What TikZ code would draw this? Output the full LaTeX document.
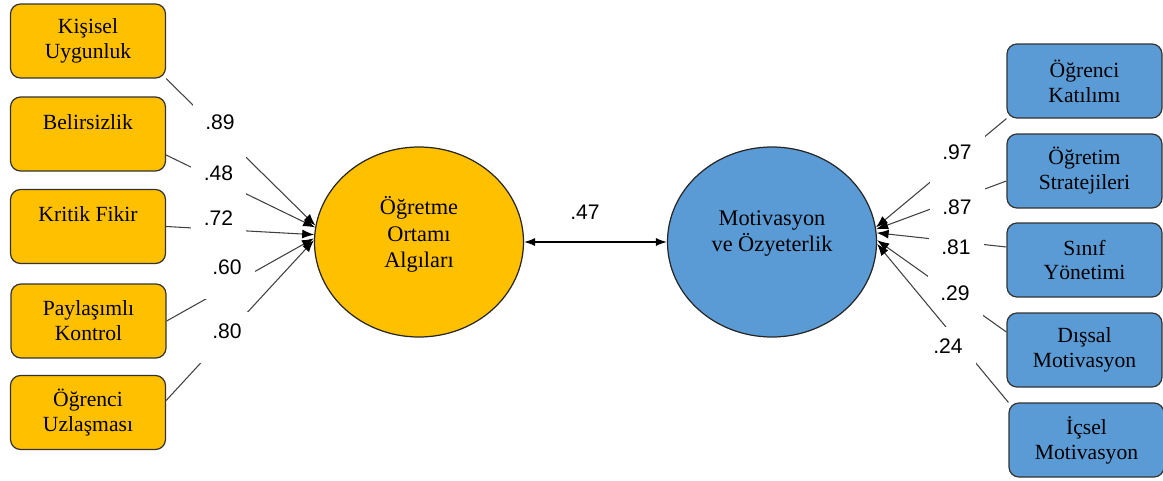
\documentclass[tikz,border=0pt]{standalone}
\usepackage{fontspec}
\setmainfont{Liberation Serif}
\newfontfamily\numfont{Liberation Sans}
\usepackage{tikz,xcolor}
\usetikzlibrary{shapes.geometric,arrows.meta,calc}
\definecolor{boxorange}{HTML}{FFC000}
\definecolor{boxblue}{HTML}{5B9BD5}

\tikzset{
  obs/.style={draw=black!80, line width=0.7pt, rounded corners=0.2cm, minimum width=3.1cm,
    minimum height=1.48cm, align=center, font=\fontsize{12.3}{14.2}\selectfont},
  lat/.style={draw=black!85, line width=0.7pt, ellipse, minimum width=4.18cm, minimum height=3.8cm, inner sep=0pt},
  lattext/.style={align=center, font=\fontsize{12.7}{15.2}\selectfont},
  coef/.style={fill=white, font=\numfont\fontsize{12}{14}\selectfont, text height=0.45cm, text depth=0.4cm,
    inner ysep=0.08cm, inner xsep=0pt, minimum width=1.1cm, anchor=base},
  conn/.style={draw=black!75, line width=0.6pt, -{Latex[length=2.4mm,width=1.8mm,color=black]}},
  corr/.style={draw=black, line width=0.6pt, {Latex[length=2.2mm,width=1.6mm]}-{Latex[length=2.2mm,width=1.6mm]}}
}

\begin{document}
\begin{tikzpicture}
\useasboundingbox (0,0) rectangle (23.26,9.6);
% Draw the two latent ellipses
  \node[lat, fill=boxorange] (oa) at (8.38,4.76) {};
  \node[lattext] (oatext) at ($(oa)+(0,0.15)$) {Öğretme\\Ortamı\\Algıları};
  \node[lat, fill=boxblue] (mo) at (15.44,4.76) {};
  \node[lattext] (motext) at ($(mo)+(0,0.17)$) {Motivasyon\\ve Özyeterlik};
% Draw the left boxes
  \node[obs, fill=boxorange] (ku) at (1.76,8.78) {Kişisel\\Uygunluk};
  \node[obs, fill=boxorange] (bel) at (1.76,6.92) {Belirsizlik\\\mbox{}};
  \node[obs, fill=boxorange] (kf) at (1.76,5.07) {Kritik Fikir\\\mbox{}};
  \node[obs, fill=boxorange] (pk) at (1.77,3.18) {Paylaşımlı\\Kontrol};
  \node[obs, fill=boxorange] (ou) at (1.76,1.35) {Öğrenci\\Uzlaşması};
% Draw the right boxes
  \node[obs, fill=boxblue] (ok) at (21.69,7.98) {Öğrenci\\Katılımı};
  \node[obs, fill=boxblue] (os) at (21.69,6.18) {Öğretim\\Stratejileri};
  \node[obs, fill=boxblue] (sy) at (21.69,4.40) {Sınıf\\Yönetimi};
  \node[obs, fill=boxblue] (dm) at (21.69,2.60) {Dışsal\\Motivasyon};
  \node[obs, fill=boxblue] (im) at (21.73,0.80) {İçsel\\Motivasyon};
% Left loadings
  \draw[conn] (ku.south east) -- (oa.171);
  \node[coef] (c89) at (4.40,7.01) {.89};
  \draw[conn] ([yshift=-0.42cm]bel.east) -- (oa.172.5);
  \node[coef] (c48) at (4.37,5.99) {.48};
  \draw[conn] (kf.east) -- (oa.176);
  \node[coef] (c72) at (4.37,5.09) {.72};
  \draw[conn] (pk.east) -- (oa.178);
  \node[coef] (c60) at (4.54,4.11) {.60};
  \draw[conn] ([yshift=0.24cm]ou.east) -- (oa.179);
  \node[coef] (c80) at (4.54,2.83) {.80};
% Right loadings
  \draw[conn] (ok.south west) -- (mo.8);
  \node[coef] (c97) at (19.14,6.41) {.97};
  \draw[conn] ([yshift=-0.2cm]os.west) -- (mo.7);
  \node[coef] (c87) at (19.14,5.31) {.87};
  \draw[conn] ([yshift=0.26cm]sy.west) -- (mo.5);
  \node[coef] (c81) at (19.12,4.51) {.81};
  \draw[conn] ([yshift=0.36cm]dm.west) -- (mo.1);
  \node[coef] (c29) at (19.10,3.59) {.29};
  \draw[conn] (im.north west) -- (mo.-1);
  \node[coef] (c24) at (18.96,2.53) {.24};
% Draw the correlation
  \draw[corr] (oa.east) -- (mo.west);
  \node[font=\numfont\fontsize{12}{14}\selectfont] (c47) at (11.70,5.36) {.47};
\end{tikzpicture}
\end{document}
